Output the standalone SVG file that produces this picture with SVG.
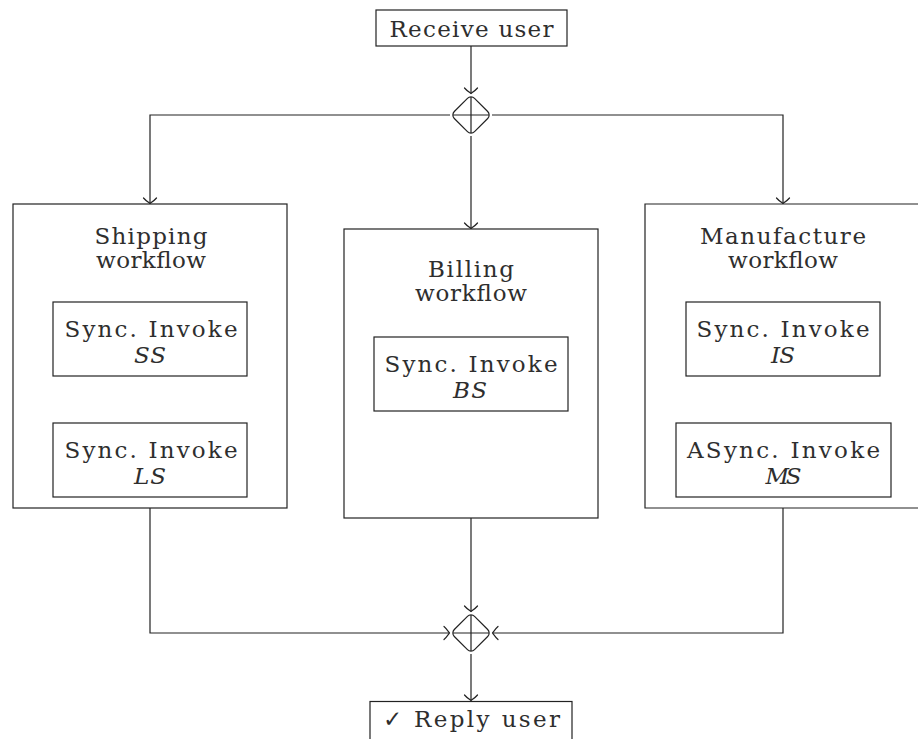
<svg xmlns="http://www.w3.org/2000/svg" width="918" height="739" viewBox="0 0 918 739">
  <style>
    .box { fill: #fff; stroke: #222; stroke-width: 1.2; }
    .edge { fill: none; stroke: #222; stroke-width: 1.2; }
    .gw { fill: #fff; stroke: #222; stroke-width: 1.2; }
    .t { font-family: "DejaVu Serif", "Liberation Serif", serif; font-size: 23px; fill: #2e2e2e; text-anchor: middle; }
    .it { font-style: italic; }
  </style>
  <defs>
    <marker id="arrow" markerUnits="userSpaceOnUse" markerWidth="16" markerHeight="16" viewBox="-8 -8 10 16" refX="0" refY="0" orient="auto" overflow="visible">
      <path d="M-5.5,-6.5 C-3.2,-4.6 -1.2,-1.6 0,0 C-1.2,1.6 -3.2,4.6 -5.5,6.5" fill="none" stroke="#222" stroke-width="1.2" stroke-linecap="round"/>
    </marker>
    <g id="gateway">
      <rect x="-14.3" y="-14.3" width="28.6" height="28.6" rx="5" transform="rotate(45)" class="gw"/>
      <path d="M0,-18 V18 M-18,0 H18" class="edge"/>
    </g>
  </defs>

  <g id="connectors">
    <path class="edge" d="M471,46 V93.5" marker-end="url(#arrow)"/>
    <path class="edge" d="M450,115 H150 V203.5" marker-end="url(#arrow)"/>
    <path class="edge" d="M471,136 V228.5" marker-end="url(#arrow)"/>
    <path class="edge" d="M492,115 H783 V203.5" marker-end="url(#arrow)"/>
    <path class="edge" d="M150,376 V422.5" marker-end="url(#arrow)"/>
    <path class="edge" d="M783,376 V422.5" marker-end="url(#arrow)"/>
    <path class="edge" d="M150,508 V633 H449.5" marker-end="url(#arrow)"/>
    <path class="edge" d="M471,518 V611.5" marker-end="url(#arrow)"/>
    <path class="edge" d="M783,508 V633 H492.5" marker-end="url(#arrow)"/>
    <path class="edge" d="M471,654 V700.5" marker-end="url(#arrow)"/>
  </g>

  <g id="receive-user">
    <rect class="box" x="376" y="10" width="191" height="36"/>
    <text class="t" x="471.5" y="36.5" textLength="164" lengthAdjust="spacing">Receive user</text>
  </g>

  <g id="split-gateway">
    <use href="#gateway" x="471" y="115"/>
  </g>

  <g id="shipping-workflow">
    <rect class="box" x="13" y="204" width="274" height="304"/>
    <text class="t" x="151" y="244" textLength="113" lengthAdjust="spacing">Shipping</text>
    <text class="t" x="151" y="268" textLength="110" lengthAdjust="spacing">workflow</text>
  </g>
  <g id="invoke-ss">
    <rect class="box" x="53" y="302" width="194" height="74"/>
    <text class="t" x="151" y="337" textLength="173" lengthAdjust="spacing">Sync. Invoke</text>
    <text class="t it" x="150" y="363" textLength="32" lengthAdjust="spacing">SS</text>
  </g>
  <g id="invoke-ls">
    <rect class="box" x="53" y="423" width="194" height="74"/>
    <text class="t" x="151" y="458" textLength="173" lengthAdjust="spacing">Sync. Invoke</text>
    <text class="t it" x="150" y="484" textLength="32" lengthAdjust="spacing">LS</text>
  </g>

  <g id="billing-workflow">
    <rect class="box" x="344" y="229" width="254" height="289"/>
    <text class="t" x="471" y="277" textLength="86" lengthAdjust="spacing">Billing</text>
    <text class="t" x="471" y="301" textLength="112" lengthAdjust="spacing">workflow</text>
  </g>
  <g id="invoke-bs">
    <rect class="box" x="374" y="337" width="194" height="74"/>
    <text class="t" x="471" y="372" textLength="173" lengthAdjust="spacing">Sync. Invoke</text>
    <text class="t it" x="470" y="398" textLength="34" lengthAdjust="spacing">BS</text>
  </g>

  <g id="manufacture-workflow">
    <path class="box" d="M921,204 H645 V508 H921"/>
    <text class="t" x="783" y="244" textLength="166" lengthAdjust="spacing">Manufacture</text>
    <text class="t" x="783" y="268" textLength="110" lengthAdjust="spacing">workflow</text>
  </g>
  <g id="invoke-is">
    <rect class="box" x="686" y="302" width="194" height="74"/>
    <text class="t" x="783" y="337" textLength="173" lengthAdjust="spacing">Sync. Invoke</text>
    <text class="t it" x="783" y="363" textLength="24" lengthAdjust="spacing">IS</text>
  </g>
  <g id="invoke-ms">
    <rect class="box" x="676" y="423" width="215" height="74"/>
    <text class="t" x="783.5" y="458" textLength="193" lengthAdjust="spacing">ASync. Invoke</text>
    <text class="t it" x="783.5" y="484" textLength="36" lengthAdjust="spacing">MS</text>
  </g>

  <g id="join-gateway">
    <use href="#gateway" x="471" y="633"/>
  </g>

  <g id="reply-user">
    <rect class="box" x="370" y="701.5" width="202" height="60"/>
    <text class="t" x="471.5" y="727" textLength="177" lengthAdjust="spacing">✓ Reply user</text>
  </g>
</svg>
